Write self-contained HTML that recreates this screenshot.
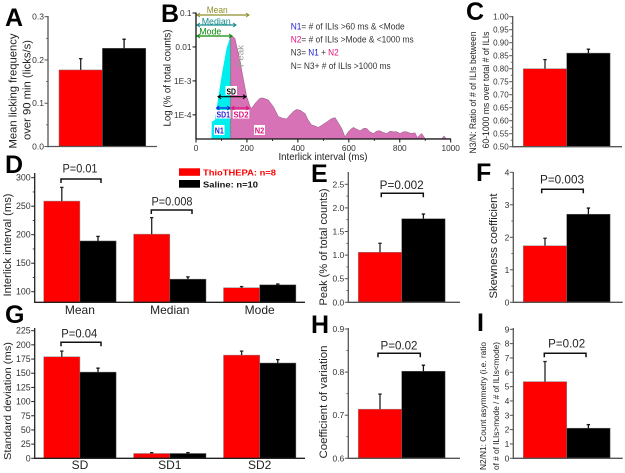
<!DOCTYPE html>
<html>
<head>
<meta charset="utf-8">
<title>Licking microstructure figure</title>
<style>
html,body{margin:0;padding:0;background:#fff;}
svg{display:block;font-family:"Liberation Sans",sans-serif;}
</style>
</head>
<body>
<svg id="figure" xmlns="http://www.w3.org/2000/svg" width="625" height="473" viewBox="0 0 625 473"></svg>
<script>
// ---- Bar chart data ----
const aRed = [0.177];
const aBlack = [0.227];
const aRedErr = [0.026];
const aBlackErr = [0.021];
const aTicks = ["0.0", "0.1", "0.2", "0.3"];

const cRed = [0.80];
const cBlack = [0.86];
const cRedErr = [0.035];
const cBlackErr = [0.015];
const cTicks = ["0.50", "0.55", "0.60", "0.65", "0.70", "0.75", "0.80", "0.85", "0.90", "0.95", "1.00"];

const dCategories = ["Mean", "Median", "Mode"];
const dRed = [259, 201, 107];
const dBlack = [189, 122, 112];
const dRedErr = [24, 29, 2];
const dBlackErr = [8, 4, 1.5];
const dTicks = ["100", "150", "200", "250", "300"];

const eRed = [1.06];
const eBlack = [1.77];
const eRedErr = [0.19];
const eBlackErr = [0.10];
const eTicks = ["0.0", "0.5", "1.0", "1.5", "2.0", "2.5"];

const fRed = [1.74];
const fBlack = [2.71];
const fRedErr = [0.23];
const fBlackErr = [0.19];
const fTicks = ["0", "1", "2", "3", "4"];

const gCategories = ["SD", "SD1", "SD2"];
const gRed = [179, 8.5, 182];
const gBlack = [152, 8.5, 168];
const gRedErr = [10, 1.5, 7];
const gBlackErr = [7, 1.5, 6];
const gTicks = ["0", "25", "50", "75", "100", "125", "150", "175", "200", "225"];

const hRed = [0.714];
const hBlack = [0.802];
const hRedErr = [0.035];
const hBlackErr = [0.014];
const hTicks = ["0.6", "0.7", "0.8", "0.9"];

const iRed = [5.35];
const iBlack = [2.1];
const iRedErr = [1.4];
const iBlackErr = [0.25];
const iTicks = ["0", "1", "2", "3", "4", "5", "6", "7", "8", "9"];

// ---- Panel B distribution: interlick interval (ms) and log10 of % counts ----
const bIntervals = [61, 62, 75, 81, 101, 120, 136, 145, 153, 173, 186, 199, 215, 224, 232, 251, 262, 284, 304, 323, 340, 356, 369, 382, 395, 410, 428, 440, 454, 465, 480, 495, 513, 530, 546, 560, 572, 585, 598, 608, 618, 630, 644, 658, 670, 683, 696, 710, 722, 735, 749, 762, 775, 788, 801, 814, 827, 845, 860, 869, 878, 886, 895, 899, 965, 974, 982, 1000];
const bLogCounts = [-4.7, -4.2, -4.15, -3.81, -2.83, -2.04, -1.67, -1.69, -1.75, -2.43, -2.95, -3.46, -3.81, -3.75, -3.66, -3.51, -3.5, -3.56, -3.76, -4.05, -4.1, -4.12, -4.0, -3.9, -3.84, -3.87, -3.96, -4.15, -4.3, -4.32, -4.37, -4.3, -4.21, -4.12, -4.08, -4.25, -4.4, -4.65, -4.5, -4.42, -4.37, -4.42, -4.47, -4.4, -4.4, -4.5, -4.55, -4.48, -4.47, -4.52, -4.55, -4.48, -4.5, -4.5, -4.55, -4.5, -4.5, -4.55, -4.53, -4.67, -4.6, -4.55, -4.65, -4.7, -4.7, -4.62, -4.7, -4.7];
const bPeakInterval = 136;
const bXTicks = ["0", "200", "400", "600", "800", "1000"];
const bYTickExponents = [-1, -2, -3, -4];
const bYTickLabels = ["0.1", "0.01", "1E-3", "1E-4"];

// ---- Helpers ----
const NS = "http://www.w3.org/2000/svg";
const root = document.getElementById("figure");

function make(tag, attrs, parent) {
  const el = document.createElementNS(NS, tag);
  for (const k in attrs) el.setAttribute(k, attrs[k]);
  
  (parent || root).appendChild(el);
  return el;
}

function label(str, x, y, size, opts, name, parent) {
  const o = opts || {};
  const attrs = { x: x, y: y, "font-size": size, fill: o.fill || "#222", "text-anchor": o.anchor || "start" };
  if (o.bold) attrs["font-weight"] = "bold";
  if (o.rotate) {
    attrs.transform = "rotate(" + o.rotate + " " + x + " " + y + ")";
  }
  if (o.length) {
    attrs.textLength = o.length;
    attrs.lengthAdjust = "spacingAndGlyphs";
  }
  const t = make("text", attrs, parent);
  t.textContent = str;
  
  return t;
}

function errorBar(x, yBase, yTop, color, name, parent) {
  const g = make("g", {}, parent);
  
  make("line", { x1: x, x2: x, y1: yBase, y2: yTop, stroke: color, "stroke-width": 1.3 }, g);
  make("line", { x1: x - 1.7, x2: x + 1.7, y1: yTop, y2: yTop, stroke: color, "stroke-width": 1.3 }, g);
}

function barPanel(c) {
  const g = make("g", {});
  
  const y = v => c.y0 + (v - c.min) / (c.max - c.min) * (c.yMax - c.y0);
  const groupCount = c.red.length;
  for (let i = 0; i < groupCount; i++) {
    const left = c.left + i * c.step;
    const xRed = left;
    const xBlack = left + c.barW;
    const r = make("rect", { x: xRed, y: y(c.red[i]), width: c.barW, height: c.y0 - y(c.red[i]), fill: "#fe0000", stroke: "#8a8a8a", "stroke-width": 0.5 }, g);
    
    const b = make("rect", { x: xBlack, y: y(c.black[i]), width: c.barW, height: c.y0 - y(c.black[i]), fill: "#000", stroke: "#666", "stroke-width": 0.5 }, g);
    
    errorBar(xRed + c.barW / 2, y(c.red[i]), y(c.red[i] + c.redErr[i]), "#222", "error-bar-" + c.id + "-thiothepa-" + i, g);
    errorBar(xBlack + c.barW / 2, y(c.black[i]), y(c.black[i] + c.blackErr[i]), "#111", "error-bar-" + c.id + "-saline-" + i, g);
    if (c.categories) {
      label(c.categories[i], left + c.barW, c.catY, 12, { anchor: "middle" }, "category-label-" + c.id + "-" + i, g);
    }
  }
  const axisColor = c.axisColor || "#444";
  const yAxis = make("line", { x1: c.axisX, x2: c.axisX, y1: c.y0 + 0.7, y2: c.axisTop, stroke: axisColor, "stroke-width": 1.3 }, g);
  
  const xAxis = make("line", { x1: c.axisX, x2: c.axisEnd, y1: c.y0, y2: c.y0, stroke: axisColor, "stroke-width": 1.3 }, g);
  
  c.ticks.forEach((t, i) => {
    const v = parseFloat(t);
    const tick = make("line", { x1: c.axisX - 3.5, x2: c.axisX, y1: y(v), y2: y(v), stroke: axisColor, "stroke-width": 1 }, g);
    
    label(t, c.axisX - 4, y(v) + 3, c.tickSize || 8.5, { anchor: "end", fill: "#333" }, "y-tick-label-" + c.id + "-" + i, g);
    if (i < c.ticks.length - 1 && !c.noMinor) {
      const next = parseFloat(c.ticks[i + 1]);
      const minor = make("line", { x1: c.axisX - 2, x2: c.axisX, y1: y((v + next) / 2), y2: y((v + next) / 2), stroke: axisColor, "stroke-width": 0.8 }, g);
      
    }
  });
}

function bracket(text, x1, x2, yTop, tx, ty, len, name) {
  const g = make("g", {});
  
  make("path", { d: "M" + x1 + " " + (yTop + 4) + "V" + yTop + "H" + x2 + "V" + (yTop + 4), fill: "none", stroke: "#111", "stroke-width": 1.5 }, g);
  label(text, tx, ty, 11.5, { anchor: "middle", fill: "#222", length: len }, name + "-label", g);
}

function panelLetter(ch, x, y) {
  label(ch, x, y, 25, { bold: true, fill: "#000" }, "panel-letter-" + ch.toLowerCase());
}

// ---- Bar panels ----
barPanel({ id: "a", red: aRed, black: aBlack, redErr: aRedErr, blackErr: aBlackErr, ticks: aTicks, min: 0, max: 0.3, y0: 146.5, yMax: 16.7, axisX: 48, axisTop: 16, axisEnd: 157, left: 59, step: 0, barW: 43.4, axisColor: "#555" });
barPanel({ id: "c", red: cRed, black: cBlack, redErr: cRedErr, blackErr: cBlackErr, ticks: cTicks, min: 0.5, max: 1, y0: 146.7, yMax: 16.7, axisX: 512.7, axisTop: 16, axisEnd: 622, left: 523.3, step: 0, barW: 43.4, tickSize: 8, axisColor: "#555" });
barPanel({ id: "d", red: dRed, black: dBlack, redErr: dRedErr, blackErr: dBlackErr, ticks: dTicks, categories: dCategories, catY: 314, min: 81.4, max: 300, y0: 302.3, yMax: 177.7, axisX: 34.7, axisTop: 173, axisEnd: 305, left: 43.7, step: 89.9, barW: 36.2, tickSize: 8.8, axisColor: "#222" });
barPanel({ id: "e", red: eRed, black: eBlack, redErr: eRedErr, blackErr: eBlackErr, ticks: eTicks, min: 0, max: 2.5, y0: 302.3, yMax: 184.3, axisX: 348.3, axisTop: 172, axisEnd: 460, left: 358.3, step: 0, barW: 43.4, axisColor: "#555" });
barPanel({ id: "f", red: fRed, black: fBlack, redErr: fRedErr, blackErr: fBlackErr, ticks: fTicks, min: 0, max: 4, y0: 302.3, yMax: 172.3, axisX: 513.3, axisTop: 172, axisEnd: 622.7, left: 523.3, step: 0, barW: 43.4, axisColor: "#555" });
barPanel({ id: "g", red: gRed, black: gBlack, redErr: gRedErr, blackErr: gBlackErr, ticks: gTicks, categories: gCategories, catY: 469, min: 0, max: 225, y0: 458.3, yMax: 330.7, axisX: 34.7, axisTop: 328, axisEnd: 305, left: 43.7, step: 89.9, barW: 36.2, tickSize: 8.8, axisColor: "#222", noMinor: true });
barPanel({ id: "h", red: hRed, black: hBlack, redErr: hRedErr, blackErr: hBlackErr, ticks: hTicks, min: 0.6, max: 0.9, y0: 458.3, yMax: 329, axisX: 348.3, axisTop: 328, axisEnd: 460, left: 358.3, step: 0, barW: 43.4, axisColor: "#555" });
barPanel({ id: "i", red: iRed, black: iBlack, redErr: iRedErr, blackErr: iBlackErr, ticks: iTicks, min: 0, max: 9, y0: 458.3, yMax: 329.3, axisX: 513.3, axisTop: 328, axisEnd: 622.7, left: 523.3, step: 0, barW: 43.4, axisColor: "#555", noMinor: true });

// ---- Panel B ----
(function () {
  const g = make("g", {});
  
  const bx = ms => 196 + ms * 0.2547;
  const by = lg => 13 + (-1 - lg) * 33.95;
  const baseY = 138.7;
  function areaPath(test) {
    const pts = [];
    bIntervals.forEach((ms, i) => {
      if (test(ms)) pts.push(bx(ms).toFixed(1) + " " + by(bLogCounts[i]).toFixed(1));
    });
    const first = pts[0].split(" ")[0];
    const last = pts[pts.length - 1].split(" ")[0];
    return "M" + first + " " + baseY + "L" + pts.join("L") + "L" + last + " " + baseY + "Z";
  }
  const cyan = make("path", { d: areaPath(ms => ms <= bPeakInterval), fill: "#00eeee" }, g);
  
  const pink = make("path", { d: areaPath(ms => ms >= bPeakInterval), fill: "#d872b6", stroke: "#8a5a7a", "stroke-width": 0.5 }, g);
  
  const peakIdx = bIntervals.indexOf(bPeakInterval);
  const peakLine = make("line", { x1: bx(bPeakInterval), x2: bx(bPeakInterval), y1: by(bLogCounts[peakIdx]), y2: baseY, stroke: "#888", "stroke-width": 1.3, "stroke-dasharray": "3 1.5" }, g);
  
  label("Peak", 243.5, 56, 9.5, { anchor: "middle", fill: "#999", rotate: -90, length: 22 }, "peak-label", g);

  function arrow(x1, x2, y, color, name) {
    const a = make("g", {}, g);
    
    make("line", { x1: x1, x2: x2, y1: y, y2: y, stroke: color, "stroke-width": 1.2 }, a);
    make("path", { d: "M" + (x1 + 3) + " " + (y - 2) + "L" + x1 + " " + y + "L" + (x1 + 3) + " " + (y + 2), fill: "none", stroke: color, "stroke-width": 1 }, a);
    make("path", { d: "M" + (x2 - 3) + " " + (y - 2) + "L" + x2 + " " + y + "L" + (x2 - 3) + " " + (y + 2), fill: "none", stroke: color, "stroke-width": 1 }, a);
  }
  arrow(197, 249, 15, "#8f8f2a", "mean-arrow");
  arrow(197, 236, 25, "#148c8c", "median-arrow");
  arrow(197, 232, 36, "#0a8a0a", "mode-arrow");
  label("Mean", 206.7, 13, 9, { fill: "#8f8f2a", length: 21 }, "mean-label", g);
  label("Median", 201.7, 24.5, 9, { fill: "#148c8c", length: 29 }, "median-label", g);
  label("Mode", 199.3, 34.7, 9, { fill: "#0a8a0a", length: 22 }, "mode-label", g);

  const boxes = [
    [225.5, 86, 11.5, 9, "SD", "#000", 231.2, 94.5, "sd-label", 9.5],
    [216, 110, 14.5, 8.5, "SD1", "#1c1cd8", 223.3, 117.5, "sd1-label", 13.5],
    [232.7, 110, 16.6, 8.5, "SD2", "#e0107c", 241, 117.5, "sd2-label", 15],
    [214, 125, 10.5, 10, "N1", "#1c1cd8", 219.3, 133.5, "n1-label", 9],
    [254, 125, 11, 10, "N2", "#e0107c", 259.5, 133.5, "n2-label", 9.5]
  ];
  boxes.forEach(b => {
    const bg = make("rect", { x: b[0], y: b[1], width: b[2], height: b[3], fill: "#fff" }, g);
    
    label(b[4], b[6], b[7], 8.5, { anchor: "middle", fill: b[5], bold: true, length: b[9] }, b[8], g);
  });
  arrow(218, 246, 96.7, "#000", "sd-arrow");
  arrow(216.5, 230, 108, "#1c1cd8", "sd1-arrow");
  arrow(231.5, 249, 108, "#e0107c", "sd2-arrow");

  const yAxis = make("line", { x1: 196, x2: 196, y1: 139.3, y2: 12.5, stroke: "#111", "stroke-width": 1.3 }, g);
  
  const xAxis = make("line", { x1: 196, x2: 451, y1: 139, y2: 139, stroke: "#111", "stroke-width": 1.3 }, g);
  
  bYTickExponents.forEach((e, i) => {
    const tick = make("line", { x1: 192.5, x2: 196, y1: by(e), y2: by(e), stroke: "#111", "stroke-width": 1 }, g);
    
    label(bYTickLabels[i], 191.5, by(e) + 3, 8.3, { anchor: "end", fill: "#333" }, "y-tick-label-b-" + i, g);
  });
  bXTicks.forEach((t, i) => {
    const v = parseFloat(t);
    const tick = make("line", { x1: bx(v), x2: bx(v), y1: 139, y2: 142.5, stroke: "#111", "stroke-width": 1 }, g);
    
    label(t, bx(v), 151, 8.3, { anchor: "middle", fill: "#333" }, "x-tick-label-b-" + i, g);
    if (i < bXTicks.length - 1) {
      const m = (v + parseFloat(bXTicks[i + 1])) / 2;
      const minor = make("line", { x1: bx(m), x2: bx(m), y1: 139, y2: 141, stroke: "#111", "stroke-width": 0.8 }, g);
      
    }
  });
  label("Log (% of total counts)", 170.5, 78, 10, { anchor: "middle", rotate: -90, length: 97 }, "y-axis-title-b", g);
  label("Interlick interval (ms)", 323, 160, 10.5, { anchor: "middle", length: 89 }, "x-axis-title-b", g);

  // legend text with coloured N1/N2
  function legendLine(parts, y, len, name) {
    const t = make("text", { x: 290.7, y: y, "font-size": 8.8, fill: "#333", textLength: len, lengthAdjust: "spacingAndGlyphs" }, g);
    
    parts.forEach(p => {
      const s = document.createElementNS(NS, "tspan");
      s.textContent = p[0];
      s.setAttribute("fill", p[1]);
      t.appendChild(s);
    });
  }
  legendLine([["N1", "#1c1cd8"], ["= # of ILIs >60 ms & <Mode", "#333"]], 29.5, 114, "definition-n1");
  legendLine([["N2", "#e0107c"], ["= # of ILIs >Mode & <1000 ms", "#333"]], 42.5, 123, "definition-n2");
  legendLine([["N3= ", "#333"], ["N1", "#1c1cd8"], [" + ", "#333"], ["N2", "#e0107c"]], 55.5, 48, "definition-n3");
  legendLine([["N= N3+ # of ILIs >1000 ms", "#333"]], 69, 100, "definition-n");
})();

// ---- Axis titles ----
label("Mean licking frequency", 16.5, 91, 11, { anchor: "middle", rotate: -90, length: 115 }, "y-axis-title-a-line1");
label("over 90 min (licks/s)", 30.5, 90, 11, { anchor: "middle", rotate: -90, length: 100 }, "y-axis-title-a-line2");
label("N3/N: Ratio of # of ILIs between", 476, 92.5, 9, { anchor: "middle", rotate: -90, length: 122 }, "y-axis-title-c-line1");
label("60-1000 ms over total # of ILIs", 489, 90, 9, { anchor: "middle", rotate: -90, length: 117 }, "y-axis-title-c-line2");
label("Interlick interval (ms)", 11, 245, 11, { anchor: "middle", rotate: -90, length: 103 }, "y-axis-title-d");
label("Peak (% of total counts)", 327, 247, 11, { anchor: "middle", rotate: -90, length: 117 }, "y-axis-title-e");
label("Skewness coefficient", 497, 246, 11, { anchor: "middle", rotate: -90, length: 105 }, "y-axis-title-f");
label("Standard deviation (ms)", 11, 401, 10.5, { anchor: "middle", rotate: -90, length: 118 }, "y-axis-title-g");
label("Coefficient of  variation", 327, 402, 11, { anchor: "middle", rotate: -90, length: 113 }, "y-axis-title-h");
label("N2/N1: Count asymmetry (i.e. ratio", 486, 406, 8.2, { anchor: "middle", rotate: -90, length: 128 }, "y-axis-title-i-line1");
label("of # of ILIs>mode / # of ILIs<mode)", 499, 406, 8.2, { anchor: "middle", rotate: -90, length: 128 }, "y-axis-title-i-line2");

// ---- Significance brackets ----
bracket("P=0.01", 61, 101, 179, 80, 172.5, 35, "significance-d-mean");
bracket("P=0.008", 151.3, 192, 210, 172, 205.7, 41, "significance-d-median");
bracket("P=0.002", 381.3, 423.3, 193.3, 401.7, 189, 44, "significance-e");
bracket("P=0.003", 541.7, 583.3, 189.3, 562, 183.7, 44, "significance-f");
bracket("P=0.04", 61, 101, 342.3, 79.3, 337.7, 36, "significance-g");
bracket("P=0.02", 378, 420.3, 353.3, 399, 349.3, 37, "significance-h");
bracket("P=0.02", 544.3, 586, 353.3, 566.7, 347.3, 37, "significance-i");

// ---- Legend ----
(function () {
  const g = make("g", {});
  
  const r = make("rect", { x: 179, y: 168.3, width: 21, height: 7.5, fill: "#fe0000" }, g);
  
  label("ThioTHEPA: n=8", 203, 175.5, 8.3, { bold: true, fill: "#fe0000", length: 73 }, "legend-entry-thiothepa", g);
  const b = make("rect", { x: 179, y: 180, width: 21, height: 7.7, fill: "#000" }, g);
  
  label("Saline: n=10", 203, 187.5, 8.3, { bold: true, fill: "#111", length: 55 }, "legend-entry-saline", g);
})();

// ---- Panel letters ----
panelLetter("A", 5, 26);
panelLetter("B", 161, 22);
panelLetter("C", 466, 20);
panelLetter("D", 5, 173);
panelLetter("E", 311, 182);
panelLetter("F", 476, 181);
panelLetter("G", 5, 323);
panelLetter("H", 311, 333);
panelLetter("I", 477, 331);
</script>
</body>
</html>
